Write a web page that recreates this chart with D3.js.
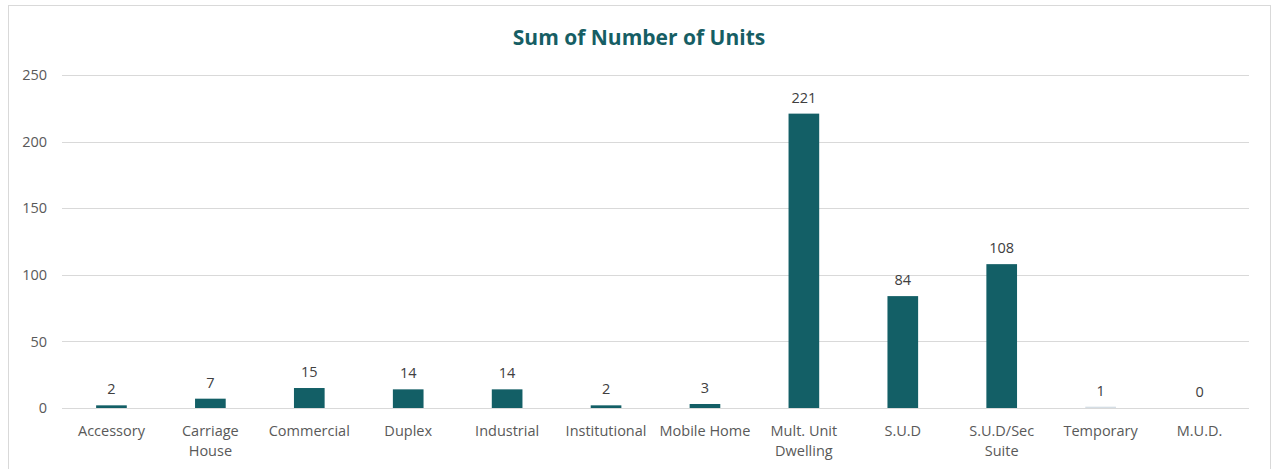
<!DOCTYPE html>
<html>
<head>
<meta charset="utf-8">
<script src="https://cdn.jsdelivr.net/npm/d3@7"></script>
<style>
  body { margin: 0; background: #fff; }
  svg text { font-family: "Open Sans", "Noto Sans", sans-serif; }
</style>
</head>
<body>
<div id="chart"></div>
<script>
const categories = ["Accessory", "Carriage House", "Commercial", "Duplex", "Industrial", "Institutional",
  "Mobile Home", "Mult. Unit Dwelling", "S.U.D", "S.U.D/Sec Suite", "Temporary", "M.U.D."];
const units = [2, 7, 15, 14, 14, 2, 3, 221, 84, 108, 1, 0];
const yTicks = [0, 50, 100, 150, 200, 250];
// wrapped label lines, as shown under the axis
const labelLines = [["Accessory"], ["Carriage", "House"], ["Commercial"], ["Duplex"], ["Industrial"],
  ["Institutional"], ["Mobile Home"], ["Mult. Unit", "Dwelling"], ["S.U.D"], ["S.U.D/Sec", "Suite"],
  ["Temporary"], ["M.U.D."]];

const width = 1279, height = 469;
const margin = { top: 75, right: 30, bottom: 61, left: 62 };

const svg = d3.select("#chart").append("svg")
  .attr("width", width)
  .attr("height", height);

// chart frame
svg.append("rect")
  .attr("x", 8.5).attr("y", 5.5)
  .attr("width", 1262).attr("height", 480)
  .attr("fill", "none")
  .attr("stroke", "#d9d9d9");

const x = d3.scaleBand()
  .domain(categories)
  .range([margin.left, width - margin.right])
  .paddingInner(0.69)
  .paddingOuter(0.345);

const y = d3.scaleLinear()
  .domain([0, 250])
  .range([height - margin.bottom, margin.top]);

svg.append("text")
  .attr("x", 639).attr("y", 45)
  .attr("text-anchor", "middle")
  .attr("font-size", "21px")
  .attr("font-weight", "bold")
  .attr("fill", "#165e64")
  .text("Sum of Number of Units");

// gridlines
svg.append("g")
  .selectAll("line")
  .data(yTicks)
  .join("line")
  .attr("x1", margin.left).attr("x2", width - margin.right)
  .attr("y1", d => Math.round(y(d)) + 0.5).attr("y2", d => Math.round(y(d)) + 0.5)
  .attr("stroke", "#d9d9d9");

// y axis labels
const yAxis = svg.append("g")
  .attr("transform", `translate(${margin.left - 15},0)`)
  .call(d3.axisLeft(y).tickValues(yTicks).tickSize(0).tickPadding(0));
yAxis.select(".domain").remove();
yAxis.selectAll("text")
  .attr("font-family", "'Open Sans', sans-serif")
  .attr("font-size", "14.5px")
  .attr("fill", "#595959");

// bars
svg.append("g")
  .selectAll("rect")
  .data(units)
  .join("rect")
  .attr("x", (d, i) => x(categories[i]))
  .attr("y", d => y(d))
  .attr("width", x.bandwidth())
  .attr("height", d => y(0) - y(d))
  .attr("fill", (d, i) => categories[i] === "Temporary" ? "#d5dee5" : "#135f66");

// value labels
svg.append("g")
  .selectAll("text")
  .data(units)
  .join("text")
  .attr("x", (d, i) => x(categories[i]) + x.bandwidth() / 2)
  .attr("y", d => y(d) - 11)
  .attr("text-anchor", "middle")
  .attr("font-size", "14.5px")
  .attr("fill", "#404040")
  .text(d => d);

// category labels
const xl = svg.append("g")
  .selectAll("text")
  .data(labelLines)
  .join("text")
  .attr("x", (d, i) => x(categories[i]) + x.bandwidth() / 2)
  .attr("y", 436)
  .attr("text-anchor", "middle")
  .attr("font-size", "14.5px")
  .attr("fill", "#595959");
xl.selectAll("tspan")
  .data((d, i) => d.map(t => ({ t, cx: x(categories[i]) + x.bandwidth() / 2 })))
  .join("tspan")
  .attr("x", d => d.cx)
  .attr("dy", (d, j) => j === 0 ? 0 : 20)
  .text(d => d.t);
</script>
</body>
</html>
